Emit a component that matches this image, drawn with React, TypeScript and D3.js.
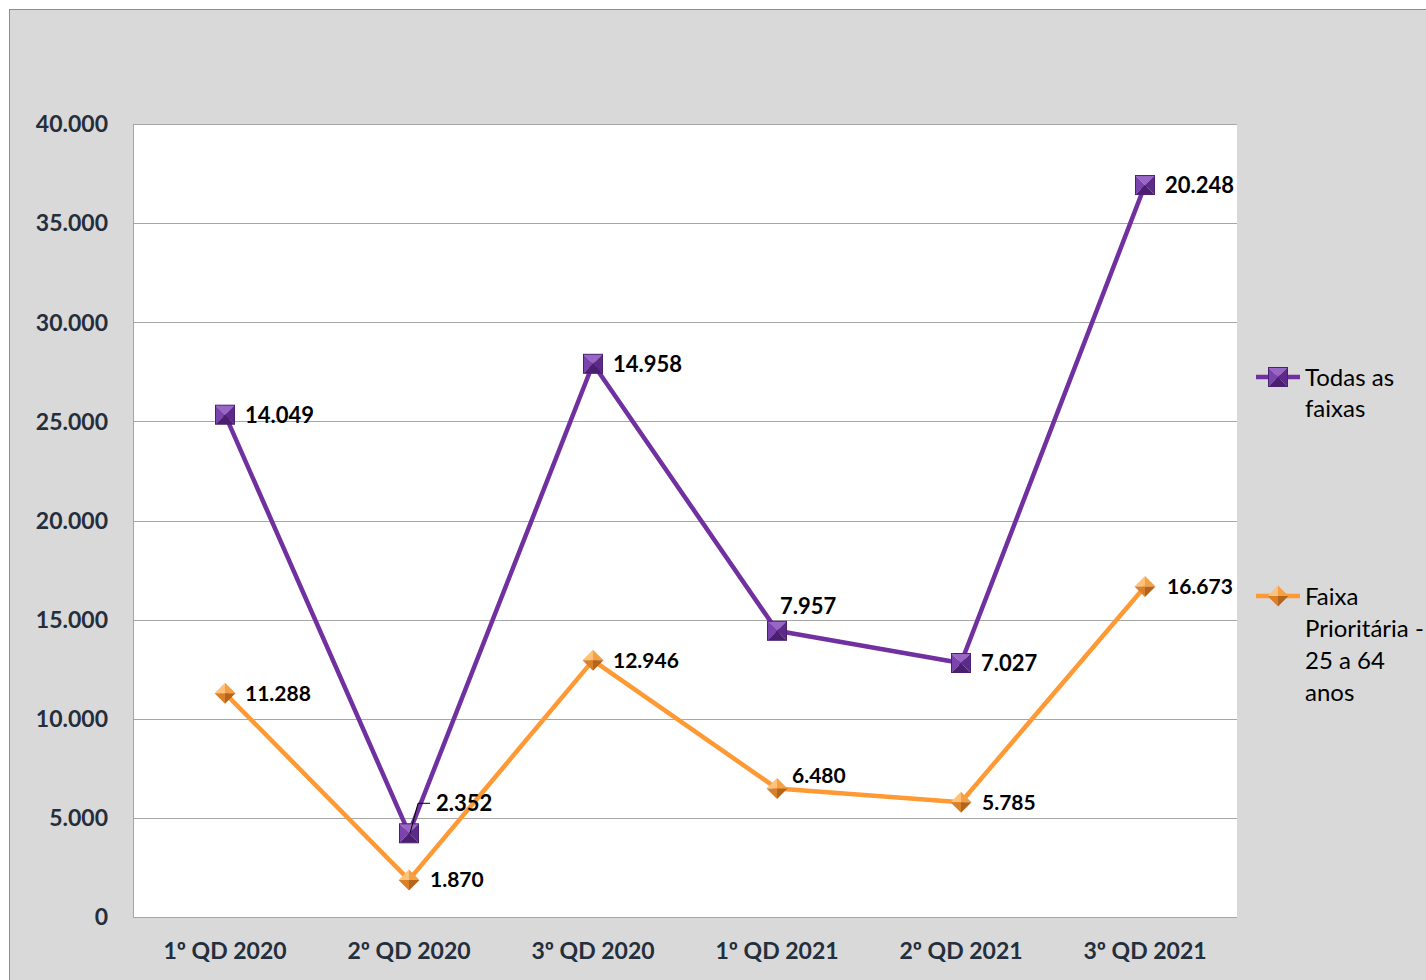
import React from "react"
import * as d3 from "d3"

const width = 1426
const height = 980

const categories = ["1º QD 2020", "2º QD 2020", "3º QD 2020", "1º QD 2021", "2º QD 2021", "3º QD 2021"]
const faixaPrioritaria = [11288, 1870, 12946, 6480, 5785, 16673]
const todasFaixas = [14049, 2352, 14958, 7957, 7027, 20248]
const yTicks = [0, 5000, 10000, 15000, 20000, 25000, 30000, 35000, 40000]

const plot = { left: 133, right: 1237, top: 124, bottom: 917 }
const font = "Lato, 'Open Sans', sans-serif"
const purple = "#7030a0"
const orange = "#ff9933"

// manual label offsets (dx, dy) from each marker, like the hand-moved ones in the sheet
const purpleLabelOffset = [[20, 0], [27, -30], [20, 0], [3, -25], [20, 0], [20, 0]]
const orangeLabelOffset = [[20, 0], [21, 0], [20, 0], [15, -13], [21, 0], [22, 0]]

const fmt = (v: number) => d3.format(",")(v).replace(/,/g, ".")

const rows = categories.map((c, i) => ({ cat: c, faixa: faixaPrioritaria[i], todas: todasFaixas[i] }))
const stacked = d3.stack<any>().keys(["faixa", "todas"])(rows)

const x = d3.scaleBand().domain(categories).range([plot.left, plot.right])
const y = d3.scaleLinear().domain([0, 40000]).range([plot.bottom, plot.top])
const cx = (c: string) => (x(c) as number) + x.bandwidth() / 2

const line = d3.line<[number, number]>().x(d => d[0]).y(d => d[1])

const SquareMarker = ({ px, py }: { px: number; py: number }) => {
  const s = 9.5
  const a = [px - s, py - s], b = [px + s, py - s], c = [px + s, py + s], e = [px - s, py + s]
  const m = [px, py]
  const tri = (p: number[], q: number[], col: string) => (
    <path d={`M${p[0]},${p[1]}L${q[0]},${q[1]}L${m[0]},${m[1]}Z`} fill={col} />
  )
  return (
    <g>
      {tri(a, b, "#9a66c6")}
      {tri(a, e, "#7b43ad")}
      {tri(b, c, "#5d2a8a")}
      {tri(e, c, "#4a1f70")}
      <rect x={px - s} y={py - s} width={2 * s} height={2 * s} fill="none" stroke="#4a2070" strokeWidth={1} />
    </g>
  )
}

const DiamondMarker = ({ px, py }: { px: number; py: number }) => {
  const s = 10.5
  const t = [px, py - s], r = [px + s, py], b = [px, py + s], l = [px - s, py]
  const m = [px, py]
  const tri = (p: number[], q: number[], col: string) => (
    <path d={`M${p[0]},${p[1]}L${q[0]},${q[1]}L${m[0]},${m[1]}Z`} fill={col} />
  )
  return (
    <g>
      {tri(l, t, "#ffc27a")}
      {tri(t, r, "#f4a045")}
      {tri(l, b, "#d9802a")}
      {tri(b, r, "#b5641b")}
    </g>
  )
}

const App = () => {
  const orangePts = stacked[0].map((d, i) => [cx(categories[i]), y(d[1])] as [number, number])
  const purplePts = stacked[1].map((d, i) => [cx(categories[i]), y(d[1])] as [number, number])

  return (
    <svg width={width} height={height} style={{ position: "absolute", left: 0, top: 0 }} fontFamily={font}>
      <rect x={0} y={0} width={width} height={height} fill="#ffffff" />
      <rect x={9.5} y={9.5} width={width} height={height} fill="#d9d9d9" stroke="#8c8c8c" strokeWidth={1} />
      <rect x={plot.left} y={plot.top} width={plot.right - plot.left} height={plot.bottom - plot.top} fill="#ffffff" />

      {yTicks.map(t => (
        <g key={t}>
          <line x1={plot.left} x2={plot.right} y1={Math.round(y(t)) + 0.5} y2={Math.round(y(t)) + 0.5} stroke="#a6a6a6" strokeWidth={1} />
          <text x={108} y={y(t)} dy="0.36em" textAnchor="end" fontSize={23} fontWeight="bold" fill="#252e3b">{fmt(t)}</text>
        </g>
      ))}
      <line x1={plot.left + 0.5} x2={plot.left + 0.5} y1={plot.top} y2={plot.bottom} stroke="#a6a6a6" strokeWidth={1} />

      {categories.map(c => (
        <text key={c} x={cx(c)} y={951} dy="0.36em" textAnchor="middle" fontSize={23} fontWeight="bold" fill="#252e3b">{c}</text>
      ))}

      <path d={line(orangePts) as string} fill="none" stroke={orange} strokeWidth={4.5} strokeLinejoin="round" />
      <path d={line(purplePts) as string} fill="none" stroke={purple} strokeWidth={4.5} strokeLinejoin="round" />

      {orangePts.map((p, i) => <DiamondMarker key={"o" + i} px={p[0]} py={p[1]} />)}
      {purplePts.map((p, i) => <SquareMarker key={"p" + i} px={p[0]} py={p[1]} />)}

      {/* leader line for the moved 2.352 label */}
      <path
        d={`M${purplePts[1][0] + 1},${purplePts[1][1]}L${purplePts[1][0] + 9},${purplePts[1][1] - 30}L${purplePts[1][0] + 21},${purplePts[1][1] - 30}`}
        fill="none" stroke="#000" strokeWidth={1}
      />

      {purplePts.map((p, i) => (
        <text key={"pl" + i} x={p[0] + purpleLabelOffset[i][0]} y={p[1] + purpleLabelOffset[i][1]} dy="0.36em"
          fontSize={22} fontWeight="bold" fill="#000">{fmt(todasFaixas[i])}</text>
      ))}
      {orangePts.map((p, i) => (
        <text key={"ol" + i} x={p[0] + orangeLabelOffset[i][0]} y={p[1] + orangeLabelOffset[i][1]} dy="0.36em"
          fontSize={21} fontWeight="bold" fill="#000">{fmt(faixaPrioritaria[i])}</text>
      ))}

      {/* legend */}
      <g>
        <line x1={1256} x2={1300} y1={377} y2={377} stroke={purple} strokeWidth={4.5} />
        <SquareMarker px={1278} py={377} />
        {["Todas as", "faixas"].map((t, i) => (
          <text key={t} x={1305} y={377 + i * 31.5} dy="0.36em" fontSize={24} fill="#000">{t}</text>
        ))}
        <line x1={1256} x2={1300} y1={596} y2={596} stroke={orange} strokeWidth={4.5} />
        <DiamondMarker px={1278} py={596} />
        {["Faixa", "Prioritária -", "25 a 64", "anos"].map((t, i) => (
          <text key={t} x={1305} y={596 + i * 32} dy="0.36em" fontSize={24} fill="#000">{t}</text>
        ))}
      </g>
    </svg>
  )
}

export default App
